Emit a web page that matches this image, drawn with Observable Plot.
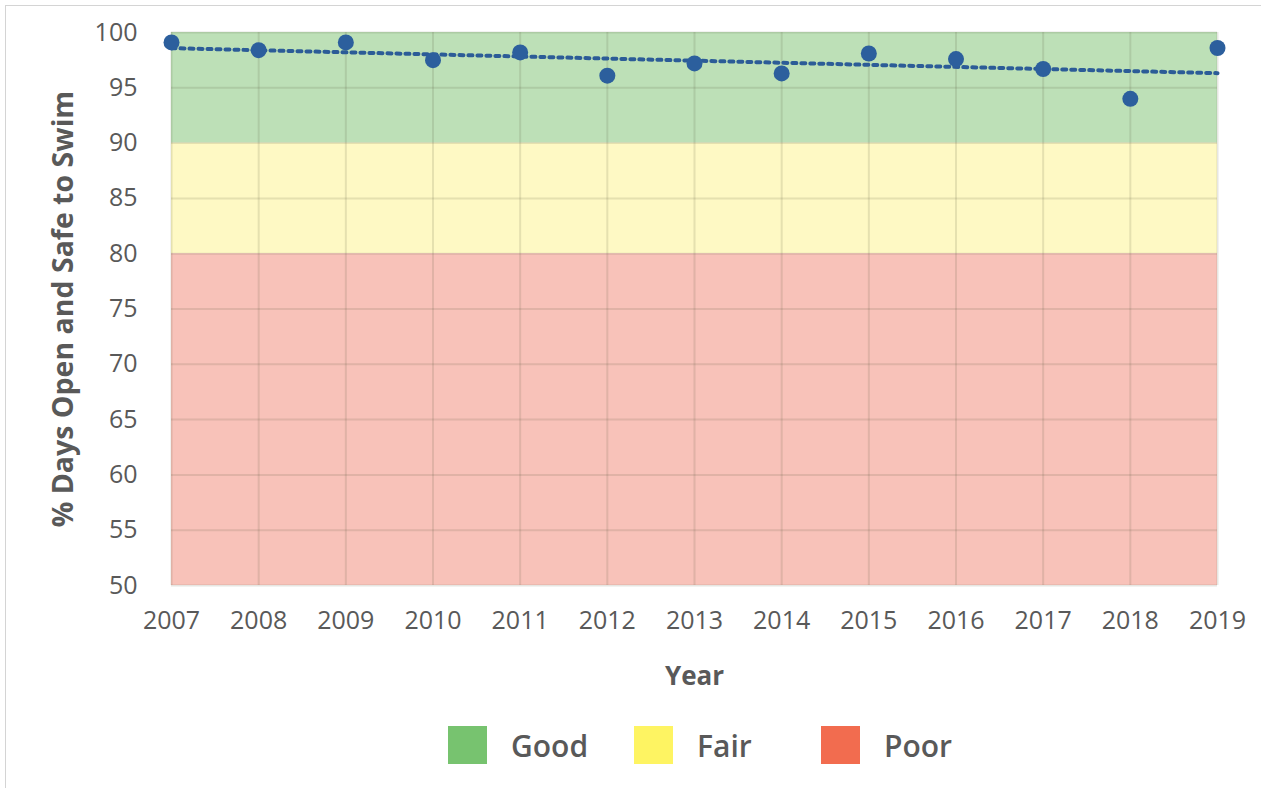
<!DOCTYPE html>
<html>
<head>
<meta charset="utf-8">
<script src="https://cdn.jsdelivr.net/npm/d3@7"></script>
<script src="https://cdn.jsdelivr.net/npm/@observablehq/plot@0.6"></script>
<style>
  html, body { margin: 0; padding: 0; background: #fff; }
  body { width: 1261px; height: 788px; position: relative; overflow: hidden; font-family: "Open Sans", sans-serif; }
  #frame { position: absolute; left: 5px; top: 5px; width: 1300px; height: 900px; border-top: 1px solid #d4d4d4; border-left: 1px solid #d4d4d4; }
  #chart { position: absolute; left: 0; top: 0; }
  #legend { position: absolute; top: 725px; left: 0; width: 1261px; height: 40px; }
  .item { position: absolute; top: 0; display: flex; align-items: center; height: 40px; }
  .sw { width: 39px; height: 38px; }
  .lab { margin-left: 24px; font-size: 30px; font-weight: 600; color: #595959; }
</style>
</head>
<body>
<div id="frame"></div>
<div id="chart"></div>
<div id="legend"></div>
<script>
const years = [2007, 2008, 2009, 2010, 2011, 2012, 2013, 2014, 2015, 2016, 2017, 2018, 2019];
const pctSafe = [99.1, 98.4, 99.1, 97.5, 98.2, 96.1, 97.2, 96.3, 98.1, 97.6, 96.7, 94.0, 98.6];
const yTicks = [50, 55, 60, 65, 70, 75, 80, 85, 90, 95, 100];
const bandNames = ["Good", "Fair", "Poor"];
const bandLow = [90, 80, 50];
const bandHigh = [100, 90, 80];
const bandFill = ["#bde0b7", "#fef9c4", "#f8c2b9"];
const legendFill = ["#77c36f", "#fef462", "#f26c4f"];

const data = years.map((y, i) => ({year: y, pct: pctSafe[i]}));
const bands = bandNames.map((n, i) => ({name: n, lo: bandLow[i], hi: bandHigh[i], fill: bandFill[i]}));

const textColor = "#595959";
const chart = Plot.plot({
  width: 1261,
  height: 700,
  marginLeft: 171,
  marginRight: 44,
  marginTop: 32,
  marginBottom: 115,
  style: {fontFamily: "Open Sans", color: textColor, background: "transparent"},
  x: {domain: [2007, 2019], axis: null},
  y: {domain: [50, 100], axis: null},
  marks: [
    Plot.rect(bands, {y1: "lo", y2: "hi", fill: "fill"}),
    Plot.gridX(years, {stroke: "#5a5a3a", strokeOpacity: 0.15, strokeWidth: 2}),
    Plot.gridY(yTicks, {stroke: "#5a5a3a", strokeOpacity: 0.15, strokeWidth: 2}),
    Plot.axisX(years, {tickSize: 0, tickPadding: 26, fontSize: 25, tickFormat: d => String(d), label: null}),
    Plot.axisY(yTicks, {tickSize: 0, tickPadding: 34, fontSize: 25, label: null}),
    Plot.text(["Year"], {frameAnchor: "bottom", dy: 99, fontSize: 26, fontWeight: "bold", fill: textColor}),
    Plot.text(["% Days Open and Safe to Swim"], {frameAnchor: "left", textAnchor: "middle", dx: -108, rotate: -90, fontSize: 28.5, fontWeight: "bold", fill: textColor}),
    Plot.linearRegressionY(data, {x: "year", y: "pct", ci: 0, stroke: "#2c5c97", strokeWidth: 4, strokeDasharray: "4,5"}),
    Plot.dot(data, {x: "year", y: "pct", r: 8, fill: "#2c5f9d", stroke: "none"})
  ]
});
document.getElementById("chart").appendChild(chart);

const legendX = [448, 634, 821];
const legend = document.getElementById("legend");
bandNames.forEach((n, i) => {
  const it = document.createElement("div");
  it.className = "item";
  it.style.left = legendX[i] + "px";
  it.innerHTML = `<div class="sw" style="background:${legendFill[i]}"></div><div class="lab">${n}</div>`;
  legend.appendChild(it);
});
</script>
</body>
</html>
